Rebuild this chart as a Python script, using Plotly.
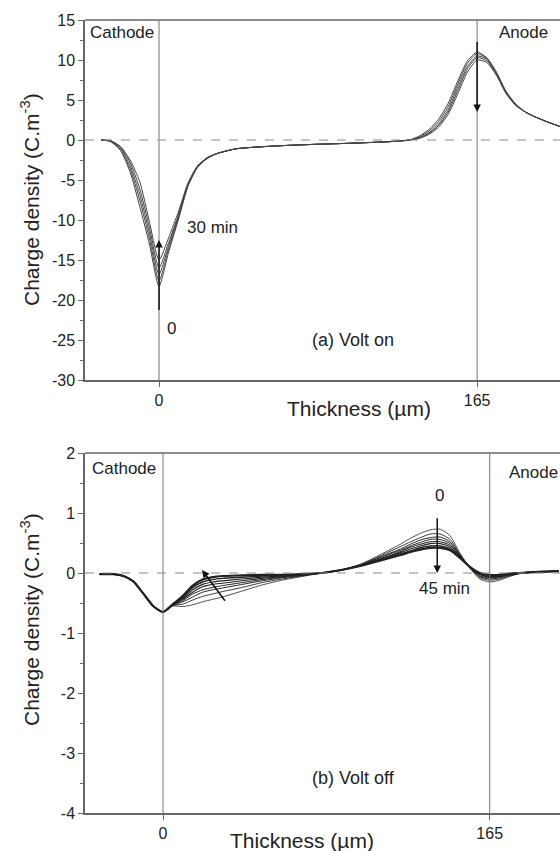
import plotly.graph_objects as go

# ---------------- data: (a) Volt on ----------------
x_on = [-30, -25, -20, -15, -10, -5, 0, 5, 10, 15, 20, 25, 30, 40, 60, 80, 100, 120, 130, 135,
        140, 145, 150, 155, 160, 165, 170, 175, 180, 185, 190, 195, 200, 210]
on_0min = [0, -0.2, -1.3, -4.0, -8.3, -13.0, -18.3, -14.0, -10.0, -5.8, -3.4, -2.3, -1.7, -1.1, -0.75, -0.55, -0.4, -0.2, 0.0, 0.5,
           1.3, 2.6, 4.6, 7.4, 9.9, 11.0, 10.3, 8.5, 6.1, 4.5, 3.5, 2.9, 2.4, 1.5]
on_8min = [0, -0.2, -1.2, -3.6, -7.5, -12.3, -17.6, -13.6, -9.8, -5.7, -3.4, -2.3, -1.7, -1.1, -0.75, -0.55, -0.4, -0.2, 0.0, 0.4,
           1.1, 2.3, 4.2, 7.0, 9.6, 10.8, 10.2, 8.4, 6.0, 4.5, 3.5, 2.9, 2.4, 1.5]
on_15min = [0, -0.15, -1.0, -3.2, -6.8, -11.6, -16.8, -13.2, -9.6, -5.6, -3.3, -2.3, -1.7, -1.1, -0.75, -0.55, -0.4, -0.2, 0.0, 0.3,
            0.9, 2.0, 3.8, 6.6, 9.2, 10.5, 10.1, 8.3, 6.0, 4.4, 3.5, 2.9, 2.4, 1.5]
on_23min = [0, -0.1, -0.9, -2.8, -6.1, -10.9, -16.0, -12.8, -9.4, -5.5, -3.3, -2.2, -1.7, -1.1, -0.75, -0.55, -0.4, -0.2, 0.0, 0.25,
            0.8, 1.8, 3.5, 6.2, 8.9, 10.3, 9.9, 8.2, 5.9, 4.4, 3.5, 2.9, 2.4, 1.5]
on_30min = [0, -0.1, -0.8, -2.5, -5.2, -10.2, -15.0, -12.2, -9.0, -5.4, -3.2, -2.2, -1.7, -1.1, -0.75, -0.55, -0.4, -0.2, 0.0, 0.2,
            0.7, 1.6, 3.2, 5.8, 8.5, 10.0, 9.7, 8.1, 5.8, 4.3, 3.5, 2.9, 2.4, 1.5]
on_curves = [on_0min, on_8min, on_15min, on_23min, on_30min]

# ---------------- data: (b) Volt off ----------------
x_off = [-32, -25, -20, -15, -10, -5, 0,
         5, 10, 15, 20, 25, 30, 40, 50, 60, 70, 80, 90,
         100, 110, 120, 125, 130, 135, 140, 145, 150, 155, 160, 165, 170, 175, 180, 190, 200]
off_0 = [-0.02, -0.02, -0.05, -0.14, -0.34, -0.55, -0.65,
         -0.55, -0.56, -0.53, -0.48, -0.44, -0.40, -0.30, -0.20, -0.12, -0.06, 0.00, 0.05,
         0.15, 0.31, 0.48, 0.58, 0.66, 0.72, 0.73, 0.62, 0.33, 0.08, -0.10, -0.15, -0.12, -0.06, -0.01, 0.02, 0.03]
off_1 = [-0.02, -0.02, -0.05, -0.14, -0.34, -0.55, -0.65,
         -0.54, -0.52, -0.45, -0.39, -0.35, -0.31, -0.24, -0.16, -0.10, -0.05, 0.00, 0.05,
         0.14, 0.29, 0.44, 0.52, 0.59, 0.65, 0.65, 0.56, 0.31, 0.09, -0.08, -0.12, -0.10, -0.05, -0.01, 0.02, 0.03]
off_2 = [-0.02, -0.02, -0.05, -0.14, -0.34, -0.55, -0.65,
         -0.54, -0.48, -0.40, -0.32, -0.28, -0.25, -0.19, -0.13, -0.08, -0.04, 0.00, 0.05,
         0.14, 0.27, 0.40, 0.48, 0.55, 0.59, 0.60, 0.52, 0.30, 0.09, -0.06, -0.10, -0.08, -0.04, -0.01, 0.02, 0.03]
off_3 = [-0.02, -0.02, -0.05, -0.14, -0.34, -0.55, -0.65,
         -0.53, -0.46, -0.35, -0.28, -0.24, -0.21, -0.16, -0.11, -0.07, -0.04, 0.00, 0.05,
         0.13, 0.26, 0.38, 0.45, 0.51, 0.56, 0.56, 0.49, 0.29, 0.09, -0.05, -0.08, -0.07, -0.03, 0.00, 0.02, 0.03]
off_4 = [-0.02, -0.02, -0.05, -0.14, -0.34, -0.55, -0.65,
         -0.53, -0.44, -0.32, -0.23, -0.19, -0.17, -0.13, -0.09, -0.06, -0.03, 0.00, 0.05,
         0.13, 0.24, 0.36, 0.43, 0.48, 0.52, 0.52, 0.46, 0.28, 0.09, -0.03, -0.07, -0.06, -0.03, 0.00, 0.02, 0.03]
off_5 = [-0.02, -0.02, -0.05, -0.14, -0.34, -0.55, -0.65,
         -0.53, -0.42, -0.28, -0.19, -0.15, -0.13, -0.10, -0.07, -0.05, -0.03, 0.00, 0.05,
         0.13, 0.23, 0.34, 0.40, 0.45, 0.49, 0.49, 0.43, 0.27, 0.10, -0.02, -0.06, -0.05, -0.02, 0.00, 0.02, 0.03]
off_6 = [-0.02, -0.02, -0.05, -0.14, -0.34, -0.55, -0.65,
         -0.52, -0.40, -0.24, -0.15, -0.11, -0.09, -0.07, -0.05, -0.04, -0.02, 0.00, 0.05,
         0.12, 0.22, 0.32, 0.37, 0.42, 0.45, 0.45, 0.40, 0.26, 0.10, -0.01, -0.04, -0.04, -0.02, 0.00, 0.02, 0.03]
off_7 = [-0.02, -0.02, -0.05, -0.14, -0.34, -0.55, -0.65,
         -0.52, -0.38, -0.21, -0.11, -0.07, -0.05, -0.04, -0.03, -0.03, -0.02, 0.00, 0.05,
         0.12, 0.21, 0.30, 0.35, 0.39, 0.42, 0.42, 0.38, 0.25, 0.10, 0.00, -0.03, -0.03, -0.01, 0.00, 0.02, 0.03]
off_curves = [off_0, off_1, off_2, off_3, off_4, off_5, off_6, off_7]
off_widths = [0.8, 0.9, 1.0, 1.0, 1.1, 1.2, 1.4, 2.2]

x_ticks = [0, 165]
x_ticktext = ["0", "165"]
y_on_ticks = [-30, -25, -20, -15, -10, -5, 0, 5, 10, 15]
y_on_text = ["-30", "-25", "-20", "-15", "-10", "-5", "0", "5", "10", "15"]
y_off_ticks = [-4, -3, -2, -1, 0, 1, 2]
y_off_text = ["-4", "-3", "-2", "-1", "0", "1", "2"]

FONT = "Liberation Sans, Arial, sans-serif"
TXT = "#222"
AX = "#666"

fig = go.Figure()
for c in on_curves:
    fig.add_trace(go.Scatter(x=x_on, y=c, mode="lines", xaxis="x", yaxis="y",
                             line=dict(color="#444", width=1, shape="spline", smoothing=0.6),
                             showlegend=False, hoverinfo="skip"))
for c, w in zip(off_curves, off_widths):
    fig.add_trace(go.Scatter(x=x_off, y=c, mode="lines", xaxis="x2", yaxis="y2",
                             line=dict(color="#222", width=w, shape="spline", smoothing=0.6),
                             showlegend=False, hoverinfo="skip"))

W, H = 560, 851
xdom = [85 / W, 1.0]
top_dom = [(H - 380) / H, (H - 20) / H]
bot_dom = [(H - 813) / H, (H - 453) / H]

axis_common = dict(showline=True, linecolor=AX, linewidth=1.5, ticks="outside", tickcolor=AX,
                   ticklen=5, tickwidth=1, showgrid=False, zeroline=False, automargin=False,
                   tickfont=dict(family=FONT, size=16, color=TXT))

fig.update_layout(
    width=W, height=H, margin=dict(l=0, r=0, t=0, b=0, pad=0, autoexpand=False),
    paper_bgcolor="white", plot_bgcolor="white", showlegend=False,
    xaxis=dict(domain=xdom, anchor="y", range=[-38.4, 208], tickvals=x_ticks, ticktext=x_ticktext,
               **axis_common),
    yaxis=dict(domain=top_dom, anchor="x", range=[-30, 15], tickvals=y_on_ticks, ticktext=y_on_text,
               minor=dict(tickvals=[-27.5, -22.5, -17.5, -12.5, -7.5, -2.5, 2.5, 7.5, 12.5],
                          ticklen=3, ticks="outside", tickcolor=AX), **axis_common),
    xaxis2=dict(domain=xdom, anchor="y2", range=[-39.4, 200.5], tickvals=x_ticks, ticktext=x_ticktext,
                **axis_common),
    yaxis2=dict(domain=bot_dom, anchor="x2", range=[-4, 2], tickvals=y_off_ticks, ticktext=y_off_text,
                minor=dict(tickvals=[-3.5, -2.5, -1.5, -0.5, 0.5, 1.5],
                           ticklen=3, ticks="outside", tickcolor=AX), **axis_common),
)

shapes = []
for xa, ya in [("x", "y"), ("x2", "y2")]:
    shapes.append(dict(type="line", xref=f"{xa} domain", yref=f"{ya} domain", x0=0, x1=1, y0=1, y1=1,
                       line=dict(color=AX, width=1.5)))
    for xv in x_ticks:
        shapes.append(dict(type="line", xref=xa, yref=f"{ya} domain", x0=xv, x1=xv, y0=0, y1=1,
                           line=dict(color="#777", width=1)))
    shapes.append(dict(type="line", xref=f"{xa} domain", yref=ya, x0=0, x1=1, y0=0, y1=0,
                       line=dict(color="#888", width=1, dash="dash")))
fig.update_layout(shapes=shapes)

ann = []
def txt(x, y, s, xr, yr, xanchor="left", size=17):
    ann.append(dict(x=x, y=y, xref=xr, yref=yr, text=s, showarrow=False, xanchor=xanchor,
                    yanchor="middle", font=dict(family=FONT, size=size, color=TXT)))

def arrow(x, y, ax, ay, xr, yr, head=2):
    ann.append(dict(x=x, y=y, ax=ax, ay=ay, xref=xr, yref=yr, axref=xr, ayref=yr, text=" ",
                    showarrow=True, arrowhead=head, arrowsize=1, arrowwidth=1.5, arrowcolor="#111"))

# panel (a)
txt(-36.8, 13.4, "Cathode", "x", "y")
txt(175.4, 13.4, "Anode", "x", "y")
txt(13.5, -10.9, "30 min", "x", "y")
txt(3.1, -23.5, "0", "x", "y")
txt(78.4, -25, "(a) Volt on", "x", "y", size=18)
arrow(0, -12.5, 0, -22.5, "x", "y")
arrow(165, 3.5, 165, 13.5, "x", "y")

# panel (b)
txt(-36.9, 1.75, "Cathode", "x2", "y2")
txt(173.7, 1.68, "Anode", "x2", "y2")
txt(139.4, 1.3, "0", "x2", "y2", xanchor="center")
txt(142.4, -0.25, "45 min", "x2", "y2", xanchor="center")
txt(74.2, -3.42, "(b) Volt off", "x2", "y2", size=18)
arrow(138.5, 0.0, 138.5, 1.08, "x2", "y2")
arrow(19.7, 0.05, 32.8, -0.53, "x2", "y2")

for yc in [200, 620]:
    ann.append(dict(x=30 / W, y=1 - yc / H, xref="paper", yref="paper", textangle=-90,
                    text="Charge density (C.m<sup>-3</sup>)", showarrow=False,
                    xanchor="center", yanchor="middle", font=dict(family=FONT, size=21, color=TXT)))
for xc, yc in [(359, 408), (302, 840)]:
    ann.append(dict(x=xc / W, y=1 - yc / H, xref="paper", yref="paper", text="Thickness (µm)",
                    showarrow=False, xanchor="center", yanchor="middle",
                    font=dict(family=FONT, size=21, color=TXT)))

fig.update_layout(annotations=ann)
fig.write_html("out.html", include_plotlyjs=True, config={"displayModeBar": False},
               post_script="document.body.style.margin='0';document.body.style.overflow='hidden';")
